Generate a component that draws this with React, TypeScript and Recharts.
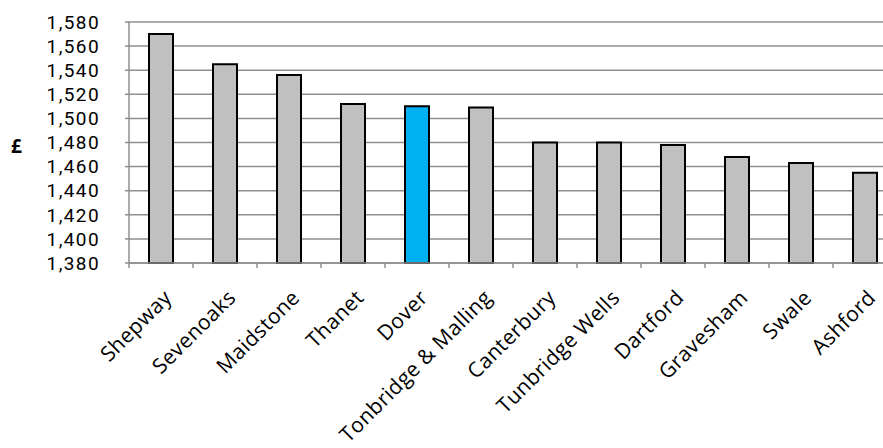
import React from 'react';
import { BarChart, Bar, XAxis, YAxis, CartesianGrid, Cell, Label } from 'recharts';

const districts = [
    'Shepway', 'Sevenoaks', 'Maidstone', 'Thanet', 'Dover', 'Tonbridge & Malling',
    'Canterbury', 'Tunbridge Wells', 'Dartford', 'Gravesham', 'Swale', 'Ashford',
];
const charges = [1570, 1545, 1536, 1512, 1510, 1509, 1480, 1480, 1478, 1468, 1463, 1455];
const yTicks = [1380, 1400, 1420, 1440, 1460, 1480, 1500, 1520, 1540, 1560, 1580];
const highlight = 'Dover';

const CHART_W = 897;
const Y_AXIS_W = 129;
const CAT_W = (CHART_W - Y_AXIS_W) / districts.length;
const FONT = '"Open Sans", sans-serif';
const GRID = '#8e8e8e';

const fmt = (v: number) => v.toLocaleString('en-GB');

function DistrictTick(props: any) {
    const { x, y, payload, index } = props;
    return (
        <g>
            <line x1={x - CAT_W / 2} y1={y} x2={x - CAT_W / 2} y2={y + 5} stroke={GRID} strokeWidth={1.5} />
            {index === districts.length - 1 && (
                <line x1={x + CAT_W / 2} y1={y} x2={x + CAT_W / 2} y2={y + 5} stroke={GRID} strokeWidth={1.5} />
            )}
            <text
                transform={`translate(${x + 12},${y + 36}) rotate(-45)`}
                textAnchor="end"
                fontFamily={FONT}
                fontSize={21}
                letterSpacing={0.4}
                fill="#000"
            >
                {payload.value}
            </text>
        </g>
    );
}

export default function App() {
    const data = districts.map((name, i) => ({ name, value: charges[i] }));

    return (
        <div style={{ position: 'absolute', left: 0, top: 0, width: 883, height: 448, overflow: 'hidden', background: '#fff' }}>
            <BarChart width={CHART_W} height={448} data={data} margin={{ top: 22, right: 0, left: 0, bottom: 0 }}>
                <CartesianGrid vertical={false} stroke={GRID} strokeWidth={1.5} />
                <XAxis
                    dataKey="name"
                    interval={0}
                    height={185}
                    axisLine={{ stroke: GRID, strokeWidth: 1.5 }}
                    tickLine={false}
                    tickSize={0}
                    tickMargin={0}
                    tick={<DistrictTick />}
                />
                <YAxis
                    width={Y_AXIS_W}
                    domain={[1380, 1580]}
                    ticks={yTicks}
                    interval={0}
                    tickFormatter={fmt}
                    axisLine={{ stroke: GRID, strokeWidth: 1.5 }}
                    tickLine={{ stroke: GRID, strokeWidth: 1.5 }}
                    tickSize={4}
                    tickMargin={25}
                    tick={{ fill: '#000', fontSize: 19, fontFamily: 'Roboto, sans-serif', letterSpacing: 1.4 }}
                >
                    <Label
                        content={() => (
                            <text x={11} y={153} fontFamily={FONT} fontSize={19} fontWeight="bold" fill="#000">£</text>
                        )}
                    />
                </YAxis>
                <Bar dataKey="value" barSize={24} stroke="#000" strokeWidth={2} isAnimationActive={false}>
                    {data.map((d) => (
                        <Cell key={d.name} fill={d.name === highlight ? '#00B0F0' : '#C0C0C0'} />
                    ))}
                </Bar>
            </BarChart>
        </div>
    );
}
